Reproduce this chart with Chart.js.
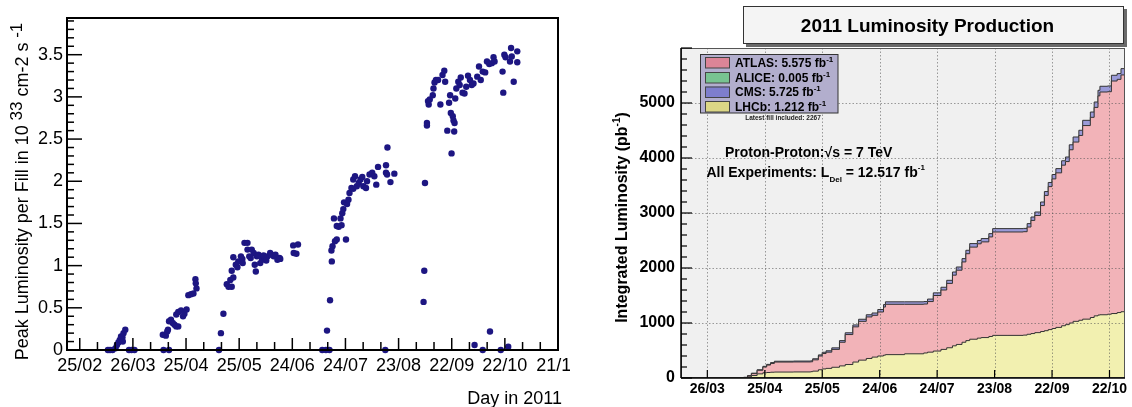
<!DOCTYPE html>
<html><head><meta charset="utf-8">
<script src="https://cdn.jsdelivr.net/npm/chart.js@4"></script>
<style>
html,body{margin:0;padding:0;background:#fff;width:1132px;height:407px;overflow:hidden}
#left{position:absolute;left:0;top:0}
#right{position:absolute;left:600px;top:0}
</style></head><body>
<canvas id="left" width="570" height="407"></canvas>
<canvas id="right" width="532" height="407"></canvas>
<script>
// ---------- LEFT: peak luminosity per fill (day of year, 10^33 cm-2 s-1) ----------
const peakDaysA = [70.9,72.1,73.5,75.2,76.0,76.8,77.6,78.3,79.1,79.3,79.7,80.7,82.8,84.2,85.9];
const peakValsA = [0,0,0,0.02,0.06,0.09,0.12,0.16,0.15,0.10,0.20,0.24,0,0,0];
const peakDaysB = [101.9,102.3,103.6,104.4,104.8,105.4,105.4,106.5,107.5,108.5,109.5,109.5,110.6,110.6,112.2,113.3,114.1,115.3,116.3,117.8,119.2,120.3,120.5,120.9];
const peakValsB = [0.18,0,0.17,0.22,0.24,0,0.34,0.36,0.32,0.30,0.28,0.42,0.28,0.45,0.47,0.40,0.43,0.48,0.65,0.66,0.67,0.84,0.79,0.73];
const peakDaysC = [133.6,134.7,136.1,138.0,139.0,140.0,140.8,140.8,141.7,141.7,143.1,144.5,146.0,147.0,148.0,149.7,149.7,150.7,152.1,153.2,153.8,154.4,155.0,155.9,156.9,157.9,159.6,161.0,162.5,163.1,164.5,166.6,167.8,168.2,175.5,175.8,177.3,178.2,144.0,146.8,151.5,158.8,160.3,165.5];
const peakValsC = [0,0.20,0.43,0.78,0.75,0.83,0.75,0.94,0.86,1.10,1.01,1.05,1.11,1.03,1.27,1.27,1.19,1.11,1.19,1.15,1.01,0.93,1.11,1.13,1.03,1.07,1.09,1.11,1.15,1.13,1.11,1.07,1.09,1.08,1.24,1.15,1.14,1.25,0.98,1.08,1.09,1.12,1.06,1.13];
const peakDaysD = [191.9,194.0,194.6,196.0,196.3,197.1,197.3,197.7,198.5,199.1,200.1,200.1,201.2,202.2,202.8,203.2,203.8,204.2,205.3,205.9,206.7,207.3,208.4,209.4,209.4,210.4,211.4,212.5,213.5,214.5,215.1,216.6,217.2,218.6,220.1,221.3,222.4,223.4,227.5,227.9,227.9,228.5,228.7,230.4,232.6];
const peakValsD = [0,0,0.23,0,0.59,1.18,1.05,1.23,1.56,1.29,1.31,1.47,1.46,1.56,1.48,1.62,1.67,1.75,1.31,1.73,1.78,1.86,1.92,1.91,2.02,2.06,1.94,1.98,2.02,2.05,1.94,1.92,2.00,2.08,2.10,2.06,1.96,2.17,0,2.19,2.10,2.08,2.40,1.99,2.09];
const peakDaysE = [249.1,249.5,249.9,251.0,251.0,251.6,252.0,252.6,254.3,254.7,255.3,256.1,257.3,258.6,259.8,260.8,261.3,262.5,263.5,264.1,264.5,264.9,265.6,266.0,266.4,266.6,267.0,267.6,268.7,269.5,270.1,271.1,272.2,273.2,274.2,275.3,276.3,277.3,277.9,279.4,280.4,281.4,282.5,282.5,283.9,284.9,286.2,286.6,287.6,288.6,289.2,292.7,293.7,294.1,294.7,295.4,296.9,297.9,298.5,298.9,300.0,302.0,302.0];
const peakValsE = [0.57,0.94,1.98,2.69,2.66,2.95,2.91,2.97,3.02,3.10,3.17,3.20,3.20,2.91,3.26,3.31,3.18,2.60,2.93,3.02,2.81,2.33,2.77,2.72,2.59,2.69,2.98,3.10,3.18,3.14,3.23,3.05,3.04,3.12,3.25,3.20,3.14,3.16,0.06,3.24,3.36,3.20,0,3.30,3.29,3.42,3.39,0.22,3.40,3.47,3.42,0,3.30,3.05,3.50,3.47,0.04,3.42,3.58,3.48,3.18,3.54,3.41];
const peakTickDays = [55,85,115,145,175,205,235,265,295,325];
const peakTickLabels = ['25/02','26/03','25/04','25/05','24/06','24/07','23/08','22/09','22/10','21/11'];
const peakYTicks = [0,0.5,1,1.5,2,2.5,3,3.5];

// ---------- RIGHT: integrated luminosity (pb^-1) ----------
const intDays  = [77,85,95,103,104,106,108,111,114,116,118,120,130,139,140,143,145,147,150,154,157,161,164,168,171,174,177,178,188,198,200,203,207,210,213,215,218,220,222,226,228,232,234,242,250,252,254,256,259,261,263,265,267,270,272,274,276,279,281,285,287,289,290,294,296,299,301,303];
const atlasLumi = [0,0,2,5,10,40,80,140,200,235,265,290,292,295,330,400,445,470,520,650,790,930,1030,1110,1140,1200,1290,1340,1340,1345,1390,1500,1600,1720,1870,1960,2110,2260,2380,2440,2475,2565,2655,2655,2660,2745,2865,2955,3135,3320,3480,3620,3730,3870,3935,4150,4290,4410,4590,4740,4920,5130,5200,5205,5400,5430,5510,5540];
const cmsLumi   = [0,0,2,6,12,45,88,150,212,248,280,305,308,312,350,420,468,495,548,680,822,965,1068,1150,1182,1245,1335,1385,1385,1390,1435,1548,1650,1776,1927,2018,2171,2322,2444,2500,2535,2625,2716,2716,2720,2807,2927,3018,3200,3390,3555,3700,3807,3950,4018,4240,4382,4504,4685,4836,5018,5231,5304,5310,5504,5535,5625,5655];
const lhcbLumi  = [0,0,0,1,3,20,45,75,95,100,105,108,110,115,125,150,165,175,195,220,245,290,325,355,380,400,415,425,440,455,470,490,520,550,585,610,650,680,705,725,735,755,775,775,780,795,808,825,845,860,880,900,920,950,970,1000,1030,1050,1070,1100,1130,1145,1150,1160,1172,1190,1205,1215];
const aliceLumi = [0,0,0,0,0,0,0,0,0,0,0,0,0,0,0,0,0,0,0,0,0,0,1,1,1,1,1,1,1,1,2,2,2,2,2,2,2,2,2,2,3,3,3,3,3,3,3,3,3,3,3,4,4,4,4,4,4,4,4,4,4,5,5,5,5,5,5,5];
const intTickDays = [85,115,145,175,205,235,265,295];
const intTickLabels = ['26/03','25/04','25/05','24/06','24/07','23/08','22/09','22/10'];
const intYTicks = [0,1000,2000,3000,4000,5000];
const legendNames = ['ATLAS','ALICE','CMS','LHCb'];
const legendTotals = ['5.575','0.005','5.725','1.212'];
const legendSwatch = ['#dc8597','#78c391','#7e7ecd','#dcd786'];

const FONT = '"Liberation Sans", Arial, Helvetica, sans-serif';

function ln(ctx,x1,y1,x2,y2){ctx.beginPath();ctx.moveTo(x1,y1);ctx.lineTo(x2,y2);ctx.stroke();}
function rich(ctx, segs, x, y, opt){
  ctx.save();
  ctx.translate(x,y);
  if(opt.rot) ctx.rotate(opt.rot);
  ctx.textBaseline='alphabetic'; ctx.textAlign='left'; ctx.fillStyle=opt.color||'#000';
  let w=0;
  segs.forEach(s=>{ctx.font=s.f; s.w=ctx.measureText(s.t).width; w+=s.w;});
  let cx = opt.align==='center' ? -w/2 : (opt.align==='right' ? -w : 0);
  segs.forEach(s=>{ctx.font=s.f; ctx.fillText(s.t, cx, opt.base+(s.dy||0)); cx+=s.w;});
  ctx.restore();
}

// ---------- LEFT CHART ----------
const peakDays = [...peakDaysA,...peakDaysB,...peakDaysC,...peakDaysD,...peakDaysE];
const peakVals = [...peakValsA,...peakValsB,...peakValsC,...peakValsD,...peakValsE];

const leftDeco = {
  id:'leftDeco',
  afterDraw(chart){
    const {ctx, chartArea:a, scales:{x,y}} = chart;
    ctx.save();
    ctx.strokeStyle='#000'; ctx.lineWidth=1.5;
    for(let i=0;i<=39;i++){
      const py=y.getPixelForValue(i/10);
      ln(ctx,a.left,py,a.left+(i%5===0?15:7),py);
    }
    for(let d=55; d<=325; d+=10){
      const px=x.getPixelForValue(d);
      ln(ctx,px,a.bottom,px,a.bottom-((d-55)%30===0?12:8));
    }
    ctx.lineWidth=2;
    ctx.strokeRect(a.left,a.top,a.right-a.left,a.bottom-a.top);
    ctx.restore();
    const f='18px '+FONT;
    rich(ctx,[{t:'Peak Luminosity per Fill in 10',f:f},{t:' 33',f:'17px '+FONT,dy:-6},{t:' cm-2 s',f:f},{t:' -1',f:'17px '+FONT,dy:-6}],
      21,191.5,{rot:-Math.PI/2,align:'center',base:6.5});
    rich(ctx,[{t:'Day in 2011',f:f}],562,397,{align:'right',base:6.5});
  }
};

new Chart(document.getElementById('left'),{
  type:'scatter',
  data:{datasets:[{data:peakDays.map((d,i)=>({x:d,y:peakVals[i]})),backgroundColor:'#1d1682',borderColor:'#1d1682',pointRadius:3.2,borderWidth:0,clip:false}]},
  options:{
    responsive:false, animation:false, devicePixelRatio:1,
    layout:{padding:{left:0,right:12,top:18,bottom:0}},
    plugins:{legend:{display:false},tooltip:{enabled:false}},
    scales:{
      x:{type:'linear',min:47.8,max:325,
        afterBuildTicks:s=>{s.ticks=peakTickDays.map(v=>({value:v}));},
        ticks:{autoSkip:false,maxRotation:0,minRotation:0,padding:5,color:'#000',font:{family:FONT,size:18},callback:(v,i)=>peakTickLabels[i]},
        grid:{display:false,drawTicks:false},border:{display:false},
        afterFit:s=>{s.height=57;s.paddingLeft=0;s.paddingRight=0;}},
      y:{min:0,max:3.935,
        afterBuildTicks:s=>{s.ticks=peakYTicks.map(v=>({value:v}));},
        ticks:{padding:4,color:'#000',font:{family:FONT,size:18},callback:v=>String(v)},
        grid:{display:false,drawTicks:false},border:{display:false},
        afterFit:s=>{s.width=67;s.paddingTop=0;s.paddingBottom=0;}}
    }
  },
  plugins:[leftDeco]
});

// ---------- RIGHT CHART ----------
const pts = arr => intDays.map((d,i)=>({x:d,y:arr[i]}));
const rightDeco = {
  id:'rightDeco',
  beforeDraw(chart){
    const {ctx, chartArea:a}=chart;
    ctx.save(); ctx.fillStyle='#f0f0f0'; ctx.fillRect(a.left,a.top,a.right-a.left,a.bottom-a.top); ctx.restore();
  },
  afterDatasetsDraw(chart){
    const {ctx, chartArea:a, scales:{x,y}}=chart;
    ctx.save();
    ctx.strokeStyle='rgba(80,80,80,0.55)'; ctx.lineWidth=1; ctx.setLineDash([1.5,2]);
    intTickDays.forEach(d=>{const px=Math.round(x.getPixelForValue(d))+0.5; ln(ctx,px,a.top,px,a.bottom);});
    intYTicks.forEach(v=>{ if(v===0) return; const py=Math.round(y.getPixelForValue(v))+0.5; ln(ctx,a.left,py,a.right,py);});
    ctx.setLineDash([]);
    ctx.strokeStyle='#555'; ctx.lineWidth=1;
    ctx.strokeRect(a.left+0.5,a.top+0.5,a.right-a.left-1,a.bottom-a.top-1);
    ctx.strokeStyle='#000'; ctx.lineWidth=1.5;
    ln(ctx,a.left,a.top,a.left,a.bottom); ln(ctx,a.left,a.bottom,a.right,a.bottom);
    ctx.lineWidth=1.2;
    for(let v=0; v<=6000; v+=200){
      const py=y.getPixelForValue(v);
      ln(ctx,a.left,py,a.left+(v%1000===0?11:6),py);
    }
    intTickDays.forEach(d=>{const px=x.getPixelForValue(d); ln(ctx,px,a.bottom,px,a.bottom-8);});
    ctx.restore();
  },
  afterDraw(chart){
    const ctx=chart.ctx;
    ctx.save();
    // title box
    ctx.fillStyle='#6a6a6a'; ctx.fillRect(146,9,381,38);
    ctx.fillStyle='#f4f4f4'; ctx.fillRect(143,6,381,38);
    ctx.strokeStyle='#333'; ctx.lineWidth=1; ctx.strokeRect(143.5,6.5,380,37);
    ctx.restore();
    rich(ctx,[{t:'2011 Luminosity Production',f:'bold 19px '+FONT}],327.5,25,{align:'center',base:7});
    // legend
    ctx.save();
    ctx.fillStyle='#b2aecd'; ctx.fillRect(100,54.5,138,58.5);
    ctx.strokeStyle='#333'; ctx.lineWidth=1; ctx.strokeRect(100.5,54.5,137.5,58.5);
    const rowY=[62.5,77.5,92,106.5];
    legendNames.forEach((n,i)=>{
      ctx.fillStyle=legendSwatch[i]; ctx.fillRect(105,rowY[i]-5.5,25,11);
      ctx.strokeStyle='#444'; ctx.strokeRect(105.5,rowY[i]-5,24,10.5);
    });
    ctx.restore();
    legendNames.forEach((n,i)=>{
      rich(ctx,[{t:n+': '+legendTotals[i]+' fb',f:'bold 12px '+FONT},{t:'-1',f:'bold 8px '+FONT,dy:-5}],135,rowY[i],{base:4.3});
    });
    rich(ctx,[{t:'Latest fill included: 2267',f:'bold 6.5px '+FONT}],183,117.5,{align:'center',base:2.4,color:'#222'});
    // annotations
    rich(ctx,[{t:'Proton-Proton:\u221As = 7 TeV',f:'bold 14px '+FONT}],125,151.7,{base:5});
    rich(ctx,[{t:'All Experiments: L',f:'bold 14px '+FONT},{t:'Del',f:'bold 8px '+FONT,dy:5},{t:' = 12.517 fb',f:'bold 14px '+FONT},{t:'-1',f:'bold 8px '+FONT,dy:-7}],106.5,171.7,{base:5});
    // y title
    rich(ctx,[{t:'Integrated Luminosity (pb',f:'bold 16px '+FONT},{t:'-1',f:'bold 10px '+FONT,dy:-7},{t:')',f:'bold 16px '+FONT}],21,217.5,{rot:-Math.PI/2,align:'center',base:5.8});
  }
};

const ds = (label,arr,color,order)=>({label,data:pts(arr),order,fill:'origin',backgroundColor:color,borderColor:'#333',borderWidth:1,stepped:true,pointRadius:0,tension:0});
new Chart(document.getElementById('right'),{
  type:'line',
  data:{datasets:[
    ds('LHCb',lhcbLumi,'#f2f0b0',0),
    ds('ALICE',aliceLumi,'#8fcc9f',1),
    ds('ATLAS',atlasLumi,'#f2b3b8',2),
    ds('CMS',cmsLumi,'#9a9ad8',3)
  ]},
  options:{
    responsive:false, animation:false, devicePixelRatio:1,
    layout:{padding:{left:0,right:7,top:48,bottom:0}},
    plugins:{legend:{display:false},tooltip:{enabled:false}},
    scales:{
      x:{type:'linear',min:71.25,max:303.1,
        afterBuildTicks:s=>{s.ticks=intTickDays.map(v=>({value:v}));},
        ticks:{autoSkip:false,maxRotation:0,minRotation:0,padding:3,color:'#000',font:{family:FONT,size:14,weight:'bold'},callback:(v,i)=>intTickLabels[i]},
        grid:{display:false,drawTicks:false},border:{display:false},
        afterFit:s=>{s.height=29;s.paddingLeft=0;s.paddingRight=0;}},
      y:{min:0,max:6000,
        afterBuildTicks:s=>{s.ticks=intYTicks.map(v=>({value:v}));},
        ticks:{padding:6,color:'#000',font:{family:FONT,size:16,weight:'bold'},callback:v=>String(v)},
        grid:{display:false,drawTicks:false},border:{display:false},
        afterFit:s=>{s.width=81;s.paddingTop=0;s.paddingBottom=0;}}
    }
  },
  plugins:[rightDeco]
});
</script></body></html>
